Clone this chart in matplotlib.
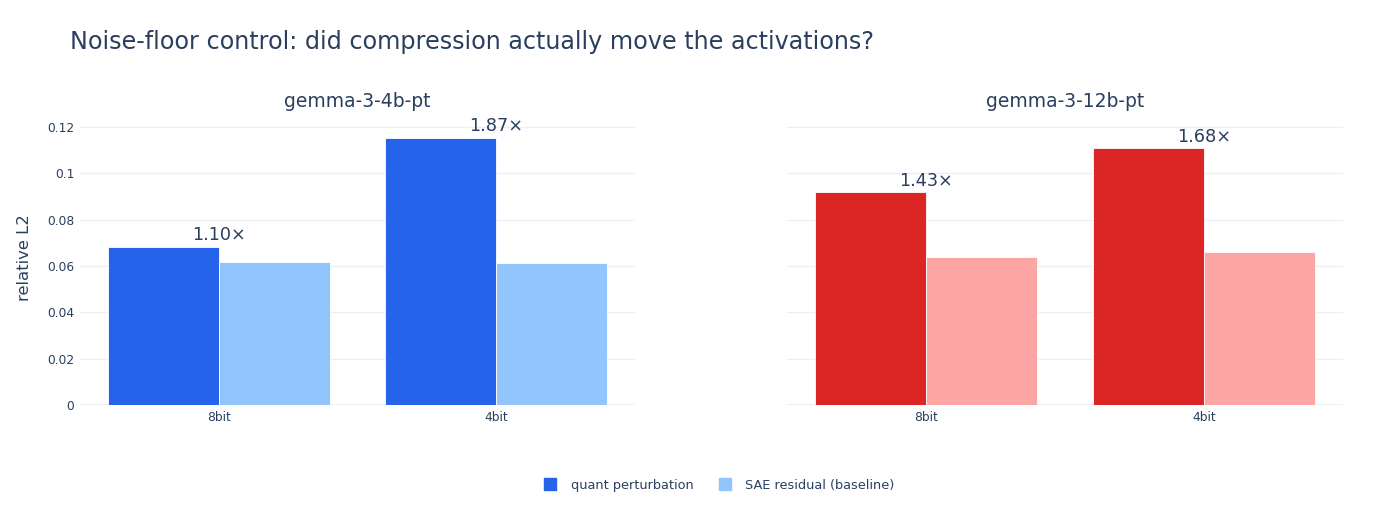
import numpy as np
import matplotlib
matplotlib.use("Agg")
from matplotlib import pyplot as plt
from matplotlib.lines import Line2D

plt.rcParams['font.family'] = ['DejaVu Sans']

# data
bitWidths = ["8bit", "4bit"]
models = ["gemma-3-4b-pt", "gemma-3-12b-pt"]
quant4b = [0.0683, 0.1154]
sae4b = [0.0617, 0.0614]
quant12b = [0.0918, 0.1108]
sae12b = [0.0640, 0.0659]
ratio4b = ["1.10×", "1.87×"]
ratio12b = ["1.43×", "1.68×"]
seriesNames = ["quant perturbation", "SAE residual (baseline)"]

textCol = "#2a3f5f"
gridCol = "#ebf0f8"
colours = [("#2563eb", "#93c5fd"), ("#dc2626", "#fca5a5")]

W, H = 1392, 525
fig = plt.figure(figsize=(W/100, H/100), dpi=100)

def pxBox(x0, x1, yTop, yBot):
    return [x0/W, 1-yBot/H, (x1-x0)/W, (yBot-yTop)/H]

yMax = 0.125
axL = fig.add_axes(pxBox(80, 635, 405 - yMax*2316.7, 405))
axR = fig.add_axes(pxBox(787, 1343, 405 - yMax*2316.7, 405))

panels = [(axL, quant4b, sae4b, ratio4b, colours[0], models[0]),
          (axR, quant12b, sae12b, ratio12b, colours[1], models[1])]

x = np.arange(len(bitWidths))
barW = 0.4
for i, (ax, quant, sae, ratios, (c1, c2), name) in enumerate(panels):
    ax.bar(x - barW/2, quant, barW, color=c1, edgecolor="white", linewidth=0.6, zorder=3)
    ax.bar(x + barW/2, sae, barW, color=c2, edgecolor="white", linewidth=0.6, zorder=3)
    for j, lab in enumerate(ratios):
        ax.annotate(lab, (x[j], quant[j]), xytext=(0, 2), textcoords="offset points",
                    ha="center", va="bottom", fontsize=12.7, color=textCol)
    ax.set_xlim(-0.5, 1.5)
    ax.set_ylim(0, yMax)
    ax.set_yticks([0, 0.02, 0.04, 0.06, 0.08, 0.1, 0.12])
    ax.yaxis.set_major_formatter(matplotlib.ticker.FuncFormatter(lambda v, p: "%g" % round(v, 3)))
    ax.set_xticks(x)
    ax.set_xticklabels(bitWidths)
    ax.grid(axis="y", color=gridCol, linewidth=1, zorder=0)
    ax.axhline(0, color=gridCol, linewidth=2, zorder=1)
    for s in ax.spines.values():
        s.set_visible(False)
    ax.tick_params(length=0, labelsize=8.8, labelcolor=textCol, pad=4)
    if i == 1:
        ax.tick_params(labelleft=False)
    ax.set_title(name, fontsize=13.5, color=textCol, pad=6)

fig.text(70/W, 1-42/H, "Noise-floor control: did compression actually move the activations?",
         fontsize=17.2, color=textCol, ha="left", va="center")
fig.text(25/W, 1-258/H, "relative L2", rotation=90, fontsize=11.8, color=textCol,
         ha="center", va="center")

handles = [Line2D([], [], marker="s", linestyle="", markersize=8, color=c)
           for c in colours[0]]
fig.legend(handles, seriesNames, loc="center", bbox_to_anchor=(716/W, 1-485/H), ncol=2,
           frameon=False, fontsize=9.3, labelcolor=textCol, handletextpad=0.6,
           columnspacing=1.4)

fig.savefig("out.png", dpi=100)
